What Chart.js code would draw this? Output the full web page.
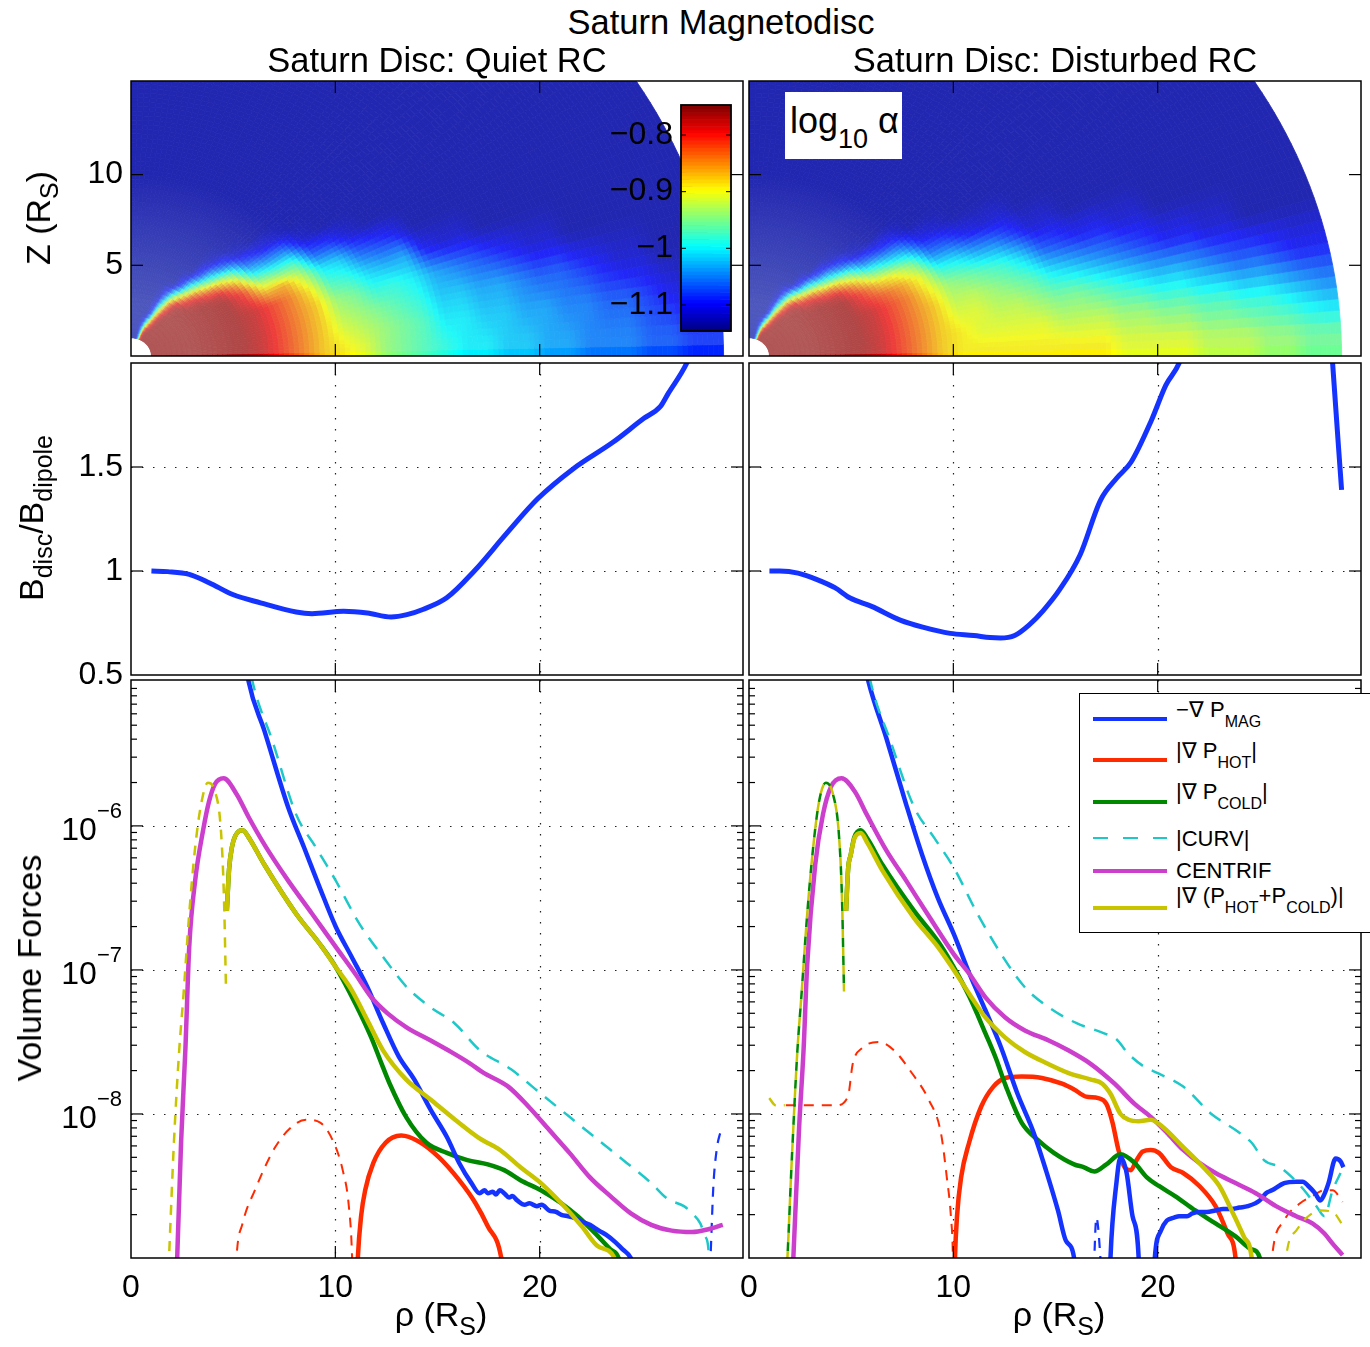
<!DOCTYPE html>
<html>
<head>
<meta charset="utf-8">
<title>Saturn Magnetodisc</title>
<script src="https://cdn.jsdelivr.net/npm/chart.js@4.4.1/dist/chart.umd.min.js"></script>
<style>
  body { margin: 0; background: #fff; }
  #fig { position: relative; width: 1370px; height: 1347px; overflow: hidden;
         font-family: "Liberation Sans", Arial, Helvetica, sans-serif; color: #000; }
  #fig canvas { position: absolute; }
  .txt { position: absolute; white-space: nowrap; line-height: 1; }
  .txt sub { line-height: 0; }
  .rot { transform: translate(-50%, -50%) rotate(-90deg); }
  .mid { transform: translateX(-50%); }
  .box { position: absolute; background: #fff; box-sizing: border-box; }
  .key { position: absolute; left: 1093px; width: 74px; }
  .entry { position: absolute; left: 1176px; font-size: 22px; line-height: 1; white-space: nowrap; }
  .entry sub { font-size: 16px; vertical-align: -10px; line-height: 0; }
</style>
</head>
<body>
<div id="fig">
  <canvas id="topQuiet"></canvas>
  <canvas id="topDisturbed"></canvas>
  <canvas id="midQuiet"></canvas>
  <canvas id="midDisturbed"></canvas>
  <canvas id="botQuiet"></canvas>
  <canvas id="botDisturbed"></canvas>
  <canvas id="colourBar"></canvas>

  <div class="txt mid" style="left:721px; top:5px; font-size:34.5px">Saturn Magnetodisc</div>
  <div class="txt mid" style="left:437px; top:43px; font-size:34.5px">Saturn Disc: Quiet RC</div>
  <div class="txt mid" style="left:1055px; top:43px; font-size:34.5px">Saturn Disc: Disturbed RC</div>

  <div class="txt rot" style="left:38px; top:218px; font-size:34px">Z (R<sub style="font-size:25px; vertical-align:-8px">S</sub>)</div>
  <div class="txt rot" style="left:31px; top:518px; font-size:34px">B<sub style="font-size:25px; vertical-align:-9px">disc</sub>/B<sub style="font-size:25px; vertical-align:-9px">dipole</sub></div>
  <div class="txt rot" style="left:29px; top:968px; font-size:34px">Volume Forces</div>
  <div class="txt mid" style="left:441px; top:1297px; font-size:34px">ρ (R<sub style="font-size:25px; vertical-align:-9px">S</sub>)</div>
  <div class="txt mid" style="left:1059px; top:1297px; font-size:34px">ρ (R<sub style="font-size:25px; vertical-align:-9px">S</sub>)</div>

  <div class="box" style="left:785px; top:92px; width:117px; height:67px"></div>
  <div class="txt" style="left:790px; top:102.5px; font-size:36px">log<sub style="font-size:27px; vertical-align:-15px">10</sub> α</div>

  <div class="box" style="left:1079px; top:693px; width:300px; height:240px; border:1.5px solid #000"></div>
  <div class="key" style="top:716.8px; height:4.5px; background:#1533ff"></div>
  <div class="key" style="top:757.8px; height:4.5px; background:#ff2a00"></div>
  <div class="key" style="top:799.8px; height:4.5px; background:#008800"></div>
  <div class="key" style="top:837px; height:2px; background:repeating-linear-gradient(to right, #1fc8c8 0 15px, transparent 15px 30px)"></div>
  <div class="key" style="top:868.8px; height:4.5px; background:#cc3fcc"></div>
  <div class="key" style="top:905.8px; height:4.5px; background:#c8c400"></div>
  <div class="entry" style="top:699.4px">−∇ P<sub>MAG</sub></div>
  <div class="entry" style="top:740.4px">|∇ P<sub>HOT</sub>|</div>
  <div class="entry" style="top:781.4px">|∇ P<sub>COLD</sub>|</div>
  <div class="entry" style="top:828.4px">|CURV|</div>
  <div class="entry" style="top:860.4px">CENTRIF</div>
  <div class="entry" style="top:885px">|∇ (P<sub>HOT</sub>+P<sub>COLD</sub>)|</div>
</div>

<script>
// ---------- data ----------
const rhoTicks = [0, 10, 20];
const zTicks = [5, 10];
const bTicks = [0.5, 1, 1.5];
const forceTicks = [1e-8, 1e-7, 1e-6];
const alphaTicks = [-1.1, -1, -0.9, -0.8];

// log10(alpha) on a polar mesh: one string per latitude node (2.5, 7.5, ... 87.5 deg),
// one character per radial node (r = 1.5, 2.5, ... 28.5 R_S). 'a' .. 'z' spans the colour axis,
// missing characters are the background level 'b'.
const alphaCodes = 'abcdefghijklmnopqrstuvwxyz';
const alphaMin = -1.146, alphaMax = -0.747;
const quietAlphaRows = [
  'yyyyyxvtrqpnmlkjjiihhgggffee',
  'yyyyyxvtrponmljjiihhggffedcc',
  'yyyyyxvtronmlkiihhgffedcc',
  'yyyyyxvtrnmkkjhgfedcc',
  'yyyyyxvtqlkihhdcc',
  'yyyyywssojifed',
  'yyyyyvomlfec',
  'yyyyxsjhgc',
  'yyyxtnfdc',
  'yyyumgc',
  'yyxnfc',
  'yxsf',
  'yri',
  'vfc',
  'i',
  'c', '', ''
];
const disturbedAlphaRows = [
  'yyyyyxvtrqqqqqqqqppppooonnmm',
  'yyyyyxvtrqppppooonnmmllkkjih',
  'yyyyyxvtrppoonmmlkjiihgffedd',
  'yyyyyxvtroonmljihgfeddcc',
  'yyyyyxvtqnmlkifeddcc',
  'yyyyywuspkjhgecc',
  'yyyyyvrpmgfdcc',
  'yyyyxsmjhdc',
  'yyyxtnged',
  'yyyumgc',
  'yyxnfc',
  'yxsf',
  'yri',
  'vfc',
  'i',
  'c', '', ''
];

// B_disc / B_dipole along the equator: [rho, ratio]
const quietB = [[1.0,1.0],[1.8,0.997],[2.85,0.984],[3.82,0.944],[4.98,0.887],[6.34,0.847],[8.08,0.803],[8.86,0.795],
  [10.4,0.806],[11.57,0.798],[12.73,0.779],[13.5,0.79],[14.28,0.815],[15.45,0.871],[16.8,1.0],[18.35,1.177],
  [19.9,1.347],[21.65,1.492],[23.6,1.62],[25.1,1.734],[25.9,1.79],[26.3,1.855],[27.2,2.0],[27.6,2.1]];
const disturbedB = [[1.0,1.0],[1.5,1.0],[2.4,0.99],[3.3,0.96],[4.2,0.92],[4.95,0.87],[6.0,0.83],[7.4,0.764],
  [8.5,0.73],[9.85,0.70],[11.0,0.69],[11.8,0.68],[12.3,0.678],[13.0,0.69],[13.7,0.74],[14.4,0.81],[15.2,0.91],
  [16.2,1.077],[17.2,1.34],[18.0,1.447],[18.7,1.524],[19.7,1.726],[20.4,1.894],[21.05,2.0],[22.0,2.3]];
const disturbedBOuter = [[28.3,2.4],[28.56,2.0],[29.0,1.39]];

// volume forces, stored as [rho, log10(force)]; dashed series are the negative parts
const quietMag = [[5.55,-4.8],[5.76,-5.0],[6.53,-5.34],[7.69,-5.87],[8.47,-6.15],[9.24,-6.43],[10.02,-6.70],[10.8,-6.91],
  [11.57,-7.12],[12.34,-7.37],[13.1,-7.6],[13.86,-7.76],[14.66,-7.97],[15.46,-8.16],[16.06,-8.34],[16.66,-8.48],
  [17.06,-8.55],[17.3,-8.53],[17.46,-8.55],[17.7,-8.54],[17.86,-8.56],[18.05,-8.53],[18.26,-8.55],[18.5,-8.58],
  [18.66,-8.57],[18.9,-8.6],[19.26,-8.63],[19.5,-8.62],[19.86,-8.64],[20.1,-8.63],[20.46,-8.67],[20.8,-8.68],
  [21.06,-8.70],[21.4,-8.71],[21.66,-8.72],[22.1,-8.75],[22.46,-8.77],[22.9,-8.81],[23.26,-8.84],[23.7,-8.89],
  [24.06,-8.94],[24.46,-9.0],[24.7,-9.1]];
const quietMagNeg = [[28.3,-9.2],[28.36,-9.0],[28.5,-8.5],[28.66,-8.25],[28.8,-8.15],[28.96,-8.1]];
const quietHot = [[11.05,-9.2],[11.1,-9.0],[11.26,-8.71],[11.46,-8.53],[11.86,-8.34],[12.46,-8.2],[13.22,-8.15],
  [14.06,-8.19],[15.06,-8.30],[16.06,-8.46],[16.86,-8.62],[17.46,-8.78],[18.12,-9.0],[18.2,-9.1]];
const quietHotNeg = [[5.1,-9.2],[5.16,-9.0],[5.46,-8.76],[6.06,-8.53],[7.06,-8.23],[7.86,-8.09],[8.56,-8.04],
  [9.26,-8.06],[9.86,-8.18],[10.36,-8.39],[10.66,-8.64],[10.82,-9.0],[10.85,-9.2]];
const quietCold = [[4.69,-6.59],[4.8,-6.3],[4.95,-6.14],[5.1,-6.07],[5.3,-6.035],[5.47,-6.03],[5.76,-6.08],[6.53,-6.27],
  [8.08,-6.61],[9.24,-6.82],[10.02,-6.98],[11.0,-7.24],[11.76,-7.47],[12.26,-7.65],[12.66,-7.79],[13.46,-8.02],
  [14.46,-8.20],[15.46,-8.27],[16.46,-8.32],[17.46,-8.35],[18.26,-8.39],[19.06,-8.46],[20.06,-8.53],[21.06,-8.62],
  [21.86,-8.71],[22.66,-8.82],[23.46,-8.94],[23.86,-9.0],[24.0,-9.1]];
const quietCurv = [[5.7,-4.8],[5.95,-5.0],[6.92,-5.41],[8.08,-5.92],[9.05,-6.15],[10.02,-6.38],[11.18,-6.68],
  [12.34,-6.91],[13.5,-7.12],[14.67,-7.26],[15.83,-7.37],[17.06,-7.556],[18.6,-7.69],[20.06,-7.86],[21.46,-8.02],
  [22.86,-8.18],[24.26,-8.34],[25.46,-8.48],[26.26,-8.59],[27.06,-8.64],[27.46,-8.69],[27.86,-8.76],[28.1,-8.85],
  [28.26,-8.94],[28.3,-9.1]];
const quietCentrif = [[2.2,-9.2],[2.26,-9.0],[2.45,-8.2],[2.66,-7.556],[2.85,-6.84],[3.14,-6.38],[3.53,-6.03],
  [3.82,-5.83],[4.11,-5.71],[4.53,-5.67],[5.17,-5.78],[5.76,-5.94],[6.53,-6.13],[7.69,-6.38],[8.86,-6.61],
  [10.02,-6.84],[10.99,-7.03],[11.76,-7.19],[12.54,-7.30],[13.5,-7.40],[14.67,-7.49],[15.5,-7.556],[16.6,-7.65],
  [17.2,-7.71],[18.46,-7.81],[19.46,-7.95],[20.46,-8.11],[21.46,-8.27],[22.46,-8.44],[23.46,-8.57],[24.46,-8.69],
  [25.46,-8.77],[26.46,-8.81],[27.46,-8.82],[28.26,-8.80],[28.96,-8.77]];
const quietSum = [[4.69,-6.59],[4.8,-6.3],[4.95,-6.14],[5.1,-6.07],[5.3,-6.035],[5.47,-6.03],[5.76,-6.08],[6.53,-6.27],
  [8.08,-6.61],[9.24,-6.82],[10.02,-6.98],[10.8,-7.14],[11.57,-7.35],[12.34,-7.56],[13.46,-7.76],[14.66,-7.90],
  [15.86,-8.04],[17.06,-8.17],[18.06,-8.25],[19.06,-8.37],[20.06,-8.48],[21.06,-8.62],[22.06,-8.78],[22.86,-8.92],
  [23.66,-9.0],[23.8,-9.1]];
const quietSumNeg = [[1.8,-9.2],[1.86,-9.0],[2.1,-8.2],[2.36,-7.556],[2.56,-7.19],[2.85,-6.61],[3.14,-6.15],
  [3.43,-5.85],[3.76,-5.70],[4.11,-5.76],[4.40,-6.03],[4.55,-6.50],[4.65,-7.14]];

const disturbedMag = [[5.55,-4.8],[5.85,-5.0],[6.72,-5.39],[7.69,-5.85],[8.47,-6.20],[9.24,-6.50],[10.02,-6.75],
  [10.8,-7.03],[11.57,-7.28],[12.34,-7.54],[13.14,-7.86],[13.93,-8.13],[14.53,-8.39],[15.12,-8.67],[15.51,-8.88],
  [15.91,-9.0],[16.0,-9.2]];
const disturbedMagNeg = [[16.85,-9.2],[17.0,-8.72],[17.3,-9.2]];
const disturbedMagSpike = [[17.65,-9.2],[17.69,-9.0],[17.98,-8.48],[18.18,-8.30],[18.48,-8.41],[18.77,-8.71],
  [19.07,-9.0],[19.1,-9.2]];
const disturbedMagOuter = [[19.8,-9.2],[19.86,-9.0],[20.16,-8.81],[20.45,-8.74],[20.8,-8.72],[21.05,-8.71],
  [21.44,-8.71],[21.7,-8.69],[22.04,-8.68],[22.4,-8.68],[22.83,-8.67],[23.2,-8.66],[23.62,-8.66],[24.0,-8.65],
  [24.41,-8.64],[25.0,-8.60],[25.3,-8.55],[25.59,-8.53],[26.19,-8.48],[26.78,-8.47],[27.1,-8.47],[27.37,-8.50],
  [27.7,-8.55],[27.96,-8.60],[28.15,-8.56],[28.36,-8.48],[28.71,-8.31],[28.95,-8.33],[29.09,-8.37]];
const disturbedHot = [[10.05,-9.2],[10.08,-9.0],[10.18,-8.71],[10.38,-8.44],[10.77,-8.20],[11.36,-7.95],[11.96,-7.81],
  [12.55,-7.75],[13.34,-7.74],[14.33,-7.75],[15.32,-7.79],[15.91,-7.83],[16.5,-7.88],[17.09,-7.89],[17.49,-7.93],
  [17.79,-8.06],[18.08,-8.25],[18.38,-8.37],[18.68,-8.39],[18.97,-8.32],[19.27,-8.26],[19.66,-8.25],[20.06,-8.27],
  [20.65,-8.37],[21.25,-8.41],[22.04,-8.50],[22.83,-8.64],[23.42,-8.83],[23.81,-9.0],[23.9,-9.2]];
const disturbedHotNeg = [[1.8,-7.94],[4.25,-7.94],[4.84,-7.88],[5.08,-7.65],[5.56,-7.54],[6.34,-7.50],[7.11,-7.56],
  [7.89,-7.70],[8.79,-7.90],[9.39,-8.13],[9.68,-8.44],[9.88,-8.71],[9.98,-9.0],[10.0,-9.2]];
const disturbedHotNegOuter = [[25.5,-9.2],[25.59,-9.0],[26.19,-8.74],[26.97,-8.62],[27.57,-8.57],[28.16,-8.53],
  [28.56,-8.53],[29.05,-8.61]];
const disturbedCold = [[4.75,-6.59],[4.85,-6.3],[4.98,-6.20],[5.15,-6.08],[5.47,-6.03],[5.8,-6.09],[6.53,-6.27],
  [8.08,-6.59],[9.24,-6.80],[10.02,-6.98],[10.8,-7.19],[11.57,-7.44],[12.1,-7.62],[12.55,-7.80],[13.34,-8.06],
  [14.13,-8.18],[14.92,-8.27],[15.91,-8.35],[16.4,-8.37],[16.9,-8.40],[17.49,-8.35],[18.18,-8.28],[18.87,-8.34],
  [19.47,-8.44],[20.06,-8.50],[20.85,-8.57],[21.84,-8.67],[22.83,-8.76],[23.81,-8.85],[24.6,-8.94],[25.0,-9.0],
  [25.1,-9.2]];
const disturbedColdNeg = [[1.8,-9.2],[1.88,-9.0],[2.1,-8.3],[2.37,-7.556],[2.56,-7.19],[2.85,-6.61],[3.14,-6.15],
  [3.43,-5.83],[3.76,-5.70],[4.11,-5.78],[4.40,-6.06],[4.55,-6.50],[4.65,-7.15]];
const disturbedCurv = [[5.7,-4.8],[5.95,-5.0],[6.92,-5.41],[8.08,-5.87],[9.05,-6.08],[10.02,-6.29],[11.18,-6.61],
  [12.34,-6.89],[13.5,-7.12],[14.67,-7.26],[16.03,-7.37],[17.38,-7.44],[17.97,-7.48],[18.55,-7.58],[19.32,-7.67],
  [20.06,-7.72],[21.25,-7.81],[22.63,-8.0],[24.0,-8.13],[24.6,-8.20],[25.2,-8.32],[25.99,-8.37],[26.58,-8.44],
  [27.17,-8.53],[27.77,-8.64],[28.16,-8.71],[28.56,-8.53],[28.95,-8.41]];
const disturbedCentrif = [[2.1,-9.2],[2.17,-9.0],[2.45,-8.1],[2.67,-7.556],[2.85,-6.96],[3.24,-6.27],[3.62,-5.92],
  [4.01,-5.73],[4.53,-5.67],[5.17,-5.76],[5.76,-5.92],[6.72,-6.17],[7.69,-6.38],[8.86,-6.64],[10.02,-6.89],
  [10.8,-7.03],[11.57,-7.19],[12.54,-7.33],[13.5,-7.42],[14.67,-7.49],[15.6,-7.556],[16.7,-7.65],[17.89,-7.79],
  [18.87,-7.93],[19.66,-8.02],[20.45,-8.13],[21.25,-8.25],[22.04,-8.34],[22.83,-8.41],[23.81,-8.48],[24.8,-8.55],
  [25.79,-8.64],[26.78,-8.71],[27.57,-8.76],[28.16,-8.83],[28.56,-8.90],[29.05,-8.98]];
const disturbedSum = [[4.75,-6.59],[4.85,-6.3],[4.98,-6.20],[5.15,-6.09],[5.47,-6.05],[5.8,-6.12],[6.53,-6.31],
  [8.08,-6.64],[9.24,-6.84],[10.02,-7.0],[10.8,-7.17],[11.57,-7.33],[12.54,-7.47],[13.5,-7.57],[14.6,-7.65],
  [15.71,-7.72],[16.7,-7.76],[17.29,-7.79],[17.69,-7.86],[18.18,-8.0],[18.58,-8.04],[19.07,-8.05],[19.66,-8.04],
  [20.25,-8.09],[21.25,-8.23],[22.23,-8.37],[23.02,-8.50],[23.62,-8.67],[24.21,-8.85],[24.6,-9.0],[24.7,-9.2]];
const disturbedSumNegInner = [[0.99,-7.89],[1.3,-7.94],[1.75,-7.94]];
const disturbedSumNeg = [[1.8,-9.2],[1.88,-9.0],[2.1,-8.3],[2.37,-7.556],[2.56,-7.19],[2.85,-6.61],[3.14,-6.15],
  [3.43,-5.83],[3.76,-5.70],[4.11,-5.78],[4.40,-6.06],[4.55,-6.50],[4.65,-7.15]];
const disturbedSumNegOuter = [[26.2,-9.2],[26.28,-9.0],[26.78,-8.81],[27.37,-8.71],[27.96,-8.67],[28.56,-8.68],
  [29.05,-8.77]];

// ---------- layout & styles ----------
const FONT = '"Liberation Sans", Arial, Helvetica, sans-serif';
const colLeft = [131, 749], colWidth = 612;
const rowTop = [81, 363, 680], rowHeight = [275, 312, 578];
const rhoMin = 0, rhoMax = 29.95;
const C = { blue: '#1533ff', red: '#ff2a00', green: '#008800', cyan: '#1fc8c8', magenta: '#cc3fcc', yellow: '#c8c400' };

Chart.defaults.font.family = FONT;
Chart.defaults.font.size = 32;
Chart.defaults.color = '#000';

function jet(t) {
  t = Math.min(1, Math.max(0, t));
  const f = c => Math.min(1, Math.max(0, 1.5 - Math.abs(4 * t - c)));
  return [f(3), f(2), f(1)];
}
// the light mesh edges wash the colours out more where the mesh is dense (small r);
// the equatorial row has no edges drawn over it
function cellColour(v, r, lat) {
  const rgb = jet((v - alphaMin) / (alphaMax - alphaMin));
  const tint = [0.75, 0.85, 0.85];
  const mix = lat < 1.2 ? 0 : 0.18 + 0.22 * Math.min(1, Math.max(0, (10 - r) / 7));
  const c = rgb.map((u, i) => Math.round(255 * (u * (1 - mix) + tint[i] * mix)));
  return `rgb(${c[0]},${c[1]},${c[2]})`;
}
function decodeRows(rows, cols) {
  return rows.map(row => Array.from(row.padEnd(cols, 'b'),
    ch => alphaMin + alphaCodes.indexOf(ch) * (alphaMax - alphaMin) / (alphaCodes.length - 1)));
}
function seg(ctx, x0, y0, x1, y1) { ctx.beginPath(); ctx.moveTo(x0, y0); ctx.lineTo(x1, y1); ctx.stroke(); }

// box, inward ticks, dotted grid and power-of-ten labels
const frame = {
  id: 'frame',
  beforeDatasetsDraw(chart, args, o) {
    if (!o.grid) return;
    const { ctx, chartArea: a, scales: { x, y } } = chart;
    ctx.save();
    ctx.strokeStyle = '#222'; ctx.lineWidth = 1.2; ctx.setLineDash([1.5, 9.5]);
    o.ticksX.forEach(v => { const p = Math.round(x.getPixelForValue(v)) + 0.5; seg(ctx, p, a.top, p, a.bottom); });
    o.ticksY.forEach(v => { const p = Math.round(y.getPixelForValue(v)) + 0.5; seg(ctx, a.left, p, a.right, p); });
    ctx.restore();
  },
  afterDraw(chart, args, o) {
    if (!o.ticksX) return;
    const { ctx, chartArea: a, scales: { x, y } } = chart;
    ctx.save();
    ctx.strokeStyle = '#000';
    ctx.lineWidth = 1.2;
    o.ticksX.forEach(v => { const p = x.getPixelForValue(v); seg(ctx, p, a.bottom, p, a.bottom - 12); seg(ctx, p, a.top, p, a.top + 12); });
    o.ticksY.forEach(v => { const p = y.getPixelForValue(v); seg(ctx, a.left, p, a.left + 12, p); seg(ctx, a.right, p, a.right - 12, p); });
    if (o.minor) {
      const lo = Math.floor(Math.log10(y.min)), hi = Math.ceil(Math.log10(y.max));
      for (let e = lo; e <= hi; e++) for (let k = 2; k <= 9; k++) {
        const v = k * Math.pow(10, e);
        if (v <= y.min || v >= y.max) continue;
        const p = y.getPixelForValue(v);
        seg(ctx, a.left, p, a.left + 6, p); seg(ctx, a.right, p, a.right - 6, p);
      }
    }
    ctx.lineWidth = 1.5;
    ctx.strokeRect(a.left, a.top, a.width, a.height);
    if (o.powers) {
      ctx.fillStyle = '#000'; ctx.textAlign = 'left'; ctx.textBaseline = 'alphabetic';
      o.ticksY.forEach(v => {
        const p = y.getPixelForValue(v);
        const ex = '\u2212' + Math.abs(Math.round(Math.log10(v)));
        ctx.font = '22px ' + FONT; const we = ctx.measureText(ex).width;
        ctx.font = '32px ' + FONT; const wb = ctx.measureText('10').width;
        const xr = a.left - 9;
        ctx.fillText('10', xr - we - wb, p + 14);
        ctx.font = '22px ' + FONT; ctx.fillText(ex, xr - we, p - 8);
      });
    }
    ctx.restore();
  }
};
Chart.register(frame);

// quarter-disc map of log10(alpha): each mesh cell is shaded between its corner nodes
const discField = {
  id: 'discField',
  beforeDatasetsDraw(chart, args, o) {
    const { ctx, chartArea: a, scales: { x, y } } = chart;
    const cols = 28, nodes = decodeRows(o.rows, cols), nLat = nodes.length;
    const r0 = 1.5, dr = 1, lat0 = 2.5, dLat = 5, rIn = 1, rOut = 29;
    const at = (r, lat) => {
      const fr = Math.min(cols - 1, Math.max(0, (r - r0) / dr));
      const fl = Math.min(nLat - 1, Math.max(0, (lat - lat0) / dLat));
      const i = Math.min(cols - 2, Math.floor(fr)), j = Math.min(nLat - 2, Math.floor(fl));
      const u = fr - i, w = fl - j;
      return (nodes[j][i] * (1 - u) + nodes[j][i + 1] * u) * (1 - w) + (nodes[j + 1][i] * (1 - u) + nodes[j + 1][i + 1] * u) * w;
    };
    const px = (r, lat) => x.getPixelForValue(r * Math.cos(lat * Math.PI / 180));
    const py = (r, lat) => y.getPixelForValue(r * Math.sin(lat * Math.PI / 180));
    ctx.save();
    ctx.beginPath(); ctx.rect(a.left, a.top, a.width, a.height); ctx.clip();
    ctx.lineWidth = 0.8;
    const sr = 0.25, sl = 1.25;
    for (let r = rIn; r < rOut - 1e-9; r += sr) {
      for (let lat = 0; lat < 90 - 1e-9; lat += sl) {
        const col = cellColour(at(r + sr / 2, lat + sl / 2), r + sr / 2, lat);
        ctx.beginPath();
        ctx.moveTo(px(r, lat), py(r, lat));
        ctx.lineTo(px(r + sr, lat), py(r + sr, lat));
        ctx.lineTo(px(r + sr, lat + sl), py(r + sr, lat + sl));
        ctx.lineTo(px(r, lat + sl), py(r, lat + sl));
        ctx.closePath();
        ctx.fillStyle = ctx.strokeStyle = col;
        ctx.fill(); ctx.stroke();
      }
    }
    ctx.restore();
  }
};

function placeCanvas(id, left, top, width, height, pad) {
  const cv = document.getElementById(id);
  cv.width = width + pad.l + pad.r;
  cv.height = height + pad.t + pad.b;
  cv.style.left = (left - pad.l) + 'px';
  cv.style.top = (top - pad.t) + 'px';
  return cv;
}

function panel(id, col, row, cfg) {
  const pad = { l: 135, r: 10, t: 40, b: cfg.xLabels ? 62 : 30 };
  const cv = placeCanvas(id, colLeft[col], rowTop[row], colWidth, rowHeight[row], pad);
  return new Chart(cv, {
    type: 'scatter',
    data: { datasets: cfg.datasets || [] },
    plugins: cfg.plugins || [],
    options: {
      responsive: false, animation: false, events: [],
      layout: { padding: { left: 0, right: pad.r, top: pad.t, bottom: 0 } },
      plugins: Object.assign({ legend: { display: false }, tooltip: { enabled: false }, frame: cfg.frame }, cfg.pluginOpts || {}),
      scales: {
        x: {
          type: 'linear', min: rhoMin, max: rhoMax,
          grid: { display: false, drawTicks: false }, border: { display: false },
          ticks: { display: !!cfg.xLabels, padding: 11, callback: v => String(v) },
          afterBuildTicks: s => { s.ticks = rhoTicks.map(v => ({ value: v })); },
          afterFit: s => { s.height = pad.b; }
        },
        y: {
          type: cfg.yType || 'linear', min: cfg.yMin, max: cfg.yMax,
          grid: { display: false, drawTicks: false }, border: { display: false },
          ticks: { display: !!cfg.yLabels, padding: 8, callback: v => String(v) },
          afterBuildTicks: s => { s.ticks = cfg.yTicks.map(v => ({ value: v })); },
          afterFit: s => { s.width = pad.l; }
        }
      }
    }
  });
}

function ratioLine(pts, colour) {
  return { data: pts.map(([x, y]) => ({ x, y })), showLine: true, pointRadius: 0, borderColor: colour,
           borderWidth: 5, cubicInterpolationMode: 'monotone', clip: 0 };
}
function forceLine(pts, colour, width, dash, offset) {
  return { data: pts.map(([x, lg]) => ({ x, y: Math.pow(10, lg) })), showLine: true, pointRadius: 0,
           borderColor: colour, borderWidth: width, borderDash: dash || [], borderDashOffset: offset || 0,
           cubicInterpolationMode: 'monotone', clip: 0 };
}

// ---------- top row: log10(alpha) maps ----------
const topFrame = { ticksX: [10, 20], ticksY: zTicks };
panel('topQuiet', 0, 0, { yMin: 0, yMax: 15.16, yTicks: zTicks, yLabels: true, frame: topFrame,
  plugins: [discField], pluginOpts: { discField: { rows: quietAlphaRows } } });
panel('topDisturbed', 1, 0, { yMin: 0, yMax: 15.16, yTicks: zTicks, frame: topFrame,
  plugins: [discField], pluginOpts: { discField: { rows: disturbedAlphaRows } } });

// ---------- middle row: field ratio ----------
const midFrame = { ticksX: [10, 20], ticksY: [1, 1.5], grid: true };
panel('midQuiet', 0, 1, { yMin: 0.5, yMax: 2.0, yTicks: bTicks, yLabels: true, frame: midFrame,
  datasets: [ratioLine(quietB, C.blue)] });
panel('midDisturbed', 1, 1, { yMin: 0.5, yMax: 2.0, yTicks: bTicks, frame: midFrame,
  datasets: [ratioLine(disturbedB, C.blue), ratioLine(disturbedBOuter, C.blue)] });

// ---------- bottom row: volume forces (first dataset is drawn on top) ----------
const D1 = [10, 8], D2 = [14, 10];
panel('botQuiet', 0, 2, { yType: 'logarithmic', yMin: 1e-9, yMax: 1.03e-5, yTicks: forceTicks, xLabels: true,
  frame: { ticksX: [10, 20], ticksY: forceTicks, grid: true, minor: true, powers: true },
  datasets: [
    forceLine(quietSum, C.yellow, 4.5),
    forceLine(quietSumNeg, C.yellow, 2.5, D1),
    forceLine(quietCentrif, C.magenta, 4.5),
    forceLine(quietCurv, C.cyan, 2.5, D2),
    forceLine(quietMag, C.blue, 4.5),
    forceLine(quietMagNeg, C.blue, 2.2, D1),
    forceLine(quietCold, C.green, 4.5),
    forceLine(quietHot, C.red, 4.5),
    forceLine(quietHotNeg, C.red, 2.0, D1)
  ] });
panel('botDisturbed', 1, 2, { yType: 'logarithmic', yMin: 1e-9, yMax: 1.03e-5, yTicks: forceTicks, xLabels: true,
  frame: { ticksX: [10, 20], ticksY: forceTicks, grid: true, minor: true },
  datasets: [
    forceLine(disturbedSum, C.yellow, 4.5),
    forceLine(disturbedSumNegInner, C.yellow, 2.5, D1),
    forceLine(disturbedSumNeg, C.yellow, 2.5, [9, 9], 9),
    forceLine(disturbedSumNegOuter, C.yellow, 2.2, D1),
    forceLine(disturbedColdNeg, C.green, 2.5, [9, 9]),
    forceLine(disturbedCentrif, C.magenta, 4.5),
    forceLine(disturbedCurv, C.cyan, 2.5, D2),
    forceLine(disturbedMag, C.blue, 4.5),
    forceLine(disturbedMagNeg, C.blue, 2.2, D1),
    forceLine(disturbedMagSpike, C.blue, 4.5),
    forceLine(disturbedMagOuter, C.blue, 4.5),
    forceLine(disturbedCold, C.green, 4.5),
    forceLine(disturbedHot, C.red, 4.5),
    forceLine(disturbedHotNeg, C.red, 2.0, D1),
    forceLine(disturbedHotNegOuter, C.red, 2.0, D1)
  ] });

// ---------- colour bar ----------
const colourBands = {
  id: 'colourBands',
  beforeDatasetsDraw(chart) {
    const { ctx, chartArea: a, scales: { y } } = chart;
    const n = 64;
    ctx.save();
    for (let i = 0; i < n; i++) {
      const v0 = alphaMin + (alphaMax - alphaMin) * i / n, v1 = alphaMin + (alphaMax - alphaMin) * (i + 1) / n;
      const p0 = y.getPixelForValue(v0), p1 = y.getPixelForValue(v1);
      const c = jet((i + 0.5) / n).map(u => Math.round(u * 255));
      ctx.fillStyle = `rgb(${c[0]},${c[1]},${c[2]})`;
      ctx.fillRect(a.left, p1, a.width, p0 - p1 + 0.6);
    }
    ctx.strokeStyle = '#000'; ctx.lineWidth = 1;
    alphaTicks.forEach(v => { const p = y.getPixelForValue(v); seg(ctx, a.right, p, a.right - 5, p); seg(ctx, a.left, p, a.left + 5, p); });
    ctx.lineWidth = 1.8;
    ctx.strokeRect(a.left, a.top, a.width, a.height);
    ctx.restore();
  }
};
const cbPad = { l: 90, r: 6, t: 30, b: 30 };
new Chart(placeCanvas('colourBar', 681, 105, 50, 226, cbPad), {
  type: 'scatter',
  data: { datasets: [] },
  plugins: [colourBands],
  options: {
    responsive: false, animation: false, events: [],
    layout: { padding: { left: 0, right: cbPad.r, top: cbPad.t, bottom: cbPad.b } },
    plugins: { legend: { display: false }, tooltip: { enabled: false } },
    scales: {
      x: { display: false, min: 0, max: 1 },
      y: {
        min: alphaMin, max: alphaMax,
        grid: { display: false, drawTicks: false }, border: { display: false },
        ticks: { padding: 8, callback: v => String(v).replace('-', '\u2212') },
        afterBuildTicks: s => { s.ticks = alphaTicks.map(v => ({ value: v })); },
        afterFit: s => { s.width = cbPad.l; }
      }
    }
  }
});
</script>
</body>
</html>
